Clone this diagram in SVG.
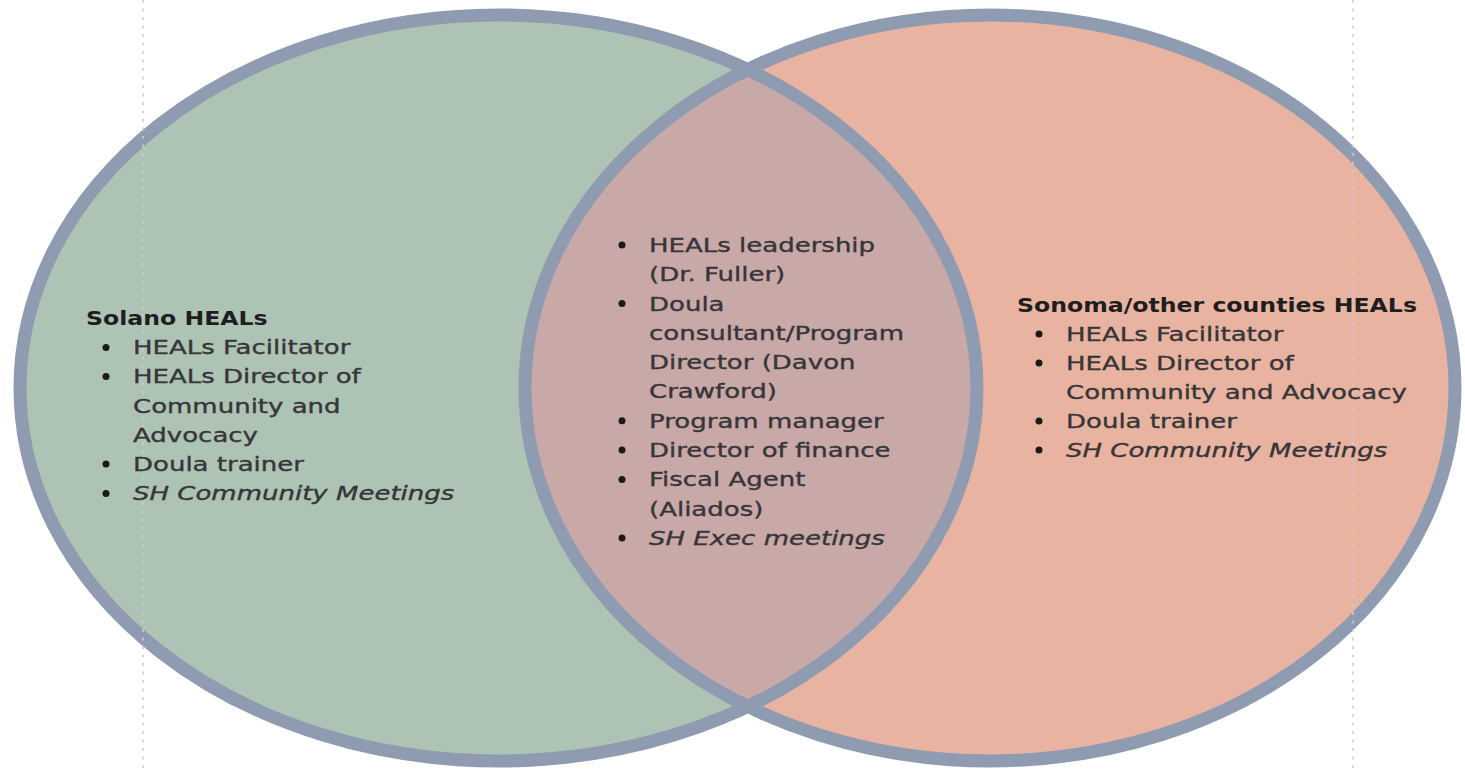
<svg xmlns="http://www.w3.org/2000/svg" width="1465" height="771" viewBox="0 0 1465 771">
<defs>
<style>
.t{font-family:"DejaVu Sans","Liberation Sans",sans-serif;font-size:20px;fill:#363538;stroke:#363538;stroke-width:0.35}
.i{font-style:italic}
.b{font-family:"DejaVu Sans","Liberation Sans",sans-serif;font-size:20px;font-weight:bold;fill:#1e1e1e}
.bul{fill:#1a1a1a}
.ring{fill:none;stroke:#8e9bb0;stroke-width:13}
.dot{stroke:#cdcdcd;stroke-width:1.5;stroke-dasharray:3 5.5;fill:none}
</style>
<clipPath id="leftClip"><ellipse cx="498.5" cy="388" rx="478.5" ry="373"/></clipPath>
</defs>
<rect width="1465" height="771" fill="#ffffff"/>
<g id="left-circle">
<ellipse cx="498.5" cy="388" rx="478.5" ry="373" fill="#adc3b3"/>
</g>
<g id="right-circle">
<ellipse cx="990" cy="388" rx="465" ry="373" fill="#e8b4a1"/>
</g>
<g id="overlap">
<ellipse cx="990" cy="388" rx="465" ry="373" fill="#c9a8a8" clip-path="url(#leftClip)"/>
</g>
<g id="rings">
<ellipse class="ring" cx="498.5" cy="388" rx="478.5" ry="373"/>
<ellipse class="ring" cx="990" cy="388" rx="465" ry="373"/>
</g>
<g id="guides">
<line class="dot" x1="143" y1="0" x2="143" y2="771"/>
<line class="dot" x1="1353" y1="0" x2="1353" y2="771"/>
</g>
<g id="solano">
<g transform="translate(86 0) scale(1.18 1)"><text class="b" x="0" y="325">Solano HEALs</text></g>
<circle class="bul" cx="106" cy="347.5" r="3.5"/>
<circle class="bul" cx="106" cy="376.5" r="3.5"/>
<circle class="bul" cx="106" cy="464" r="3.5"/>
<circle class="bul" cx="106" cy="493.5" r="3.5"/>
<g transform="translate(133 0) scale(1.3 1)">
<text class="t" x="0" y="354.2">HEALs Facilitator</text>
<text class="t" x="0" y="383.4">HEALs Director of</text>
<text class="t" x="0" y="412.6">Community and</text>
<text class="t" x="0" y="441.8">Advocacy</text>
<text class="t" x="0" y="471">Doula trainer</text>
<text class="t i" x="0" y="500.2">SH Community Meetings</text>
</g>
</g>
<g id="shared">
<circle class="bul" cx="622" cy="245" r="3.5"/>
<circle class="bul" cx="622" cy="303.6" r="3.5"/>
<circle class="bul" cx="622" cy="420.8" r="3.5"/>
<circle class="bul" cx="622" cy="450.1" r="3.5"/>
<circle class="bul" cx="622" cy="479.4" r="3.5"/>
<circle class="bul" cx="622" cy="538" r="3.5"/>
<g transform="translate(649 0) scale(1.3 1)">
<text class="t" x="0" y="252">HEALs leadership</text>
<text class="t" x="0" y="281.3">(Dr. Fuller)</text>
<text class="t" x="0" y="310.6">Doula</text>
<text class="t" x="0" y="339.9">consultant/Program</text>
<text class="t" x="0" y="369.2">Director (Davon</text>
<text class="t" x="0" y="398.5">Crawford)</text>
<text class="t" x="0" y="427.8">Program manager</text>
<text class="t" x="0" y="457.1">Director of finance</text>
<text class="t" x="0" y="486.4">Fiscal Agent</text>
<text class="t" x="0" y="515.7">(Aliados)</text>
<text class="t i" x="0" y="545">SH Exec meetings</text>
</g>
</g>
<g id="sonoma">
<g transform="translate(1017 0) scale(1.18 1)"><text class="b" x="0" y="312">Sonoma/other counties HEALs</text></g>
<circle class="bul" cx="1039" cy="334" r="3.5"/>
<circle class="bul" cx="1039" cy="363" r="3.5"/>
<circle class="bul" cx="1039" cy="421" r="3.5"/>
<circle class="bul" cx="1039" cy="450" r="3.5"/>
<g transform="translate(1066 0) scale(1.3 1)">
<text class="t" x="0" y="341">HEALs Facilitator</text>
<text class="t" x="0" y="370">HEALs Director of</text>
<text class="t" x="0" y="399">Community and Advocacy</text>
<text class="t" x="0" y="428">Doula trainer</text>
<text class="t i" x="0" y="457">SH Community Meetings</text>
</g>
</g>
</svg>
